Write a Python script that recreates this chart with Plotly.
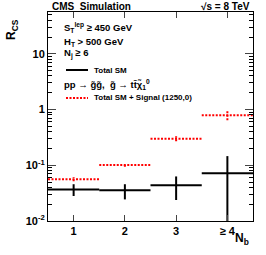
import plotly.graph_objects as go

nb = [1, 2, 3, 4]
nb_labels = ["1", "2", "3", "≥ 4"]
sm = [0.0367, 0.0356, 0.0438, 0.0716]
sm_up = [0.0457, 0.0457, 0.063, 0.146]
sm_dn = [0.0281, 0.0244, 0.0238, 0.005]
sig = [0.0563, 0.101, 0.30, 0.787]
sig_up = [0.0615, 0.108, 0.33, 0.97]
sig_dn = [0.0515, 0.094, 0.27, 0.64]

FONT = "Liberation Sans"
L, R, T, B = 48, 253, 12, 221
PW, PH = R - L, B - T

def segs(xc, yc, up, dn):
    hx, hy, vx, vy = [], [], [], []
    for x, y, u, d in zip(xc, yc, up, dn):
        hx += [x - 0.5, x + 0.5, None]
        hy += [y, y, None]
        vx += [x, x, None]
        vy += [d, u, None]
    return hx, hy, vx, vy

fig = go.Figure()
hx, hy, vx, vy = segs(nb, sm, sm_up, sm_dn)
fig.add_trace(go.Scatter(x=hx, y=hy, mode="lines", line=dict(color="black", width=2), showlegend=False))
fig.add_trace(go.Scatter(x=vx, y=vy, mode="lines", line=dict(color="black", width=2), showlegend=False))
hx, hy, vx, vy = segs(nb, sig, sig_up, sig_dn)
DOT = "2px,1.5px"
fig.add_trace(go.Scatter(x=hx, y=hy, mode="lines", line=dict(color="red", width=2, dash=DOT), showlegend=False))
fig.add_trace(go.Scatter(x=vx, y=vy, mode="lines", line=dict(color="red", width=2, dash=DOT), showlegend=False))

minor_vals = [m * 10.0 ** k for k in range(-3, 2) for m in range(2, 10)]

fig.update_layout(
    width=266, height=255,
    margin=dict(l=L, r=266 - R, t=T, b=255 - B, autoexpand=False),
    plot_bgcolor="white", paper_bgcolor="white",
    font=dict(family=FONT, color="black", size=11),
    showlegend=False,
)
fig.update_xaxes(range=[0.5, 4.5], tickvals=nb, ticktext=nb_labels, ticks="inside", ticklen=6,
                 showgrid=False, zeroline=False, showline=True, linecolor="black", linewidth=1,
                 mirror="allticks", automargin=False, tickfont=dict(size=11, weight="bold"))
fig.update_yaxes(type="log", range=[-2, 1.75], tickvals=[0.01, 0.1, 1, 10],
                 ticktext=["10<sup>-2</sup>", "10<sup>-1</sup>", "1", "10"],
                 ticks="inside", ticklen=8, showgrid=False, zeroline=False, showline=True,
                 linecolor="black", linewidth=1, mirror="allticks", automargin=False,
                 tickfont=dict(size=11, weight="bold"),
                 minor=dict(ticks="inside", ticklen=4, tickmode="array", tickvals=minor_vals,
                            tickcolor="black", showgrid=False))

def ptext(px, py, text, size=10, xanchor="left", angle=0):
    fig.add_annotation(xref="paper", yref="paper", x=(px - L) / PW, y=1 - (py - T) / PH,
                       text=text, showarrow=False, xanchor=xanchor, yanchor="middle",
                       textangle=angle, font=dict(size=size, weight="bold"))

ptext(50, 6, "CMS  Simulation", 10)
ptext(252, 6, "√s = 8 TeV", 10, xanchor="right")
ptext(62, 28, "S<sub>T</sub><sup>lep</sup> ≥ 450 GeV", 9.5)
ptext(62, 42, "H<sub>T</sub> > 500 GeV", 9.5)
ptext(62, 53, "N<sub>j</sub> ≥ 6", 9.5)
ptext(92, 70, "Total SM", 8)
ptext(62, 84, "pp → g̃g̃,  g̃ → tt̄χ̃<sub>1</sub><sup>0</sup>", 9.5)
ptext(92, 98, "Total SM + Signal (1250,0)", 8)
ptext(12, 30, "R<sub>CS</sub>", 12, xanchor="center", angle=-90)
ptext(242, 239, "N<sub>b</sub>", 12, xanchor="center")

fig.add_shape(type="line", xref="paper", yref="paper", x0=(66 - L) / PW, x1=(88 - L) / PW,
              y0=1 - (70 - T) / PH, y1=1 - (70 - T) / PH, line=dict(color="black", width=2))
fig.add_shape(type="line", xref="paper", yref="paper", x0=(66 - L) / PW, x1=(88 - L) / PW,
              y0=1 - (98 - T) / PH, y1=1 - (98 - T) / PH, line=dict(color="red", width=2, dash=DOT))

fig.write_html("out.html", config={"displayModeBar": False},
               post_script="document.body.style.margin='0';document.body.style.overflow='hidden';")
